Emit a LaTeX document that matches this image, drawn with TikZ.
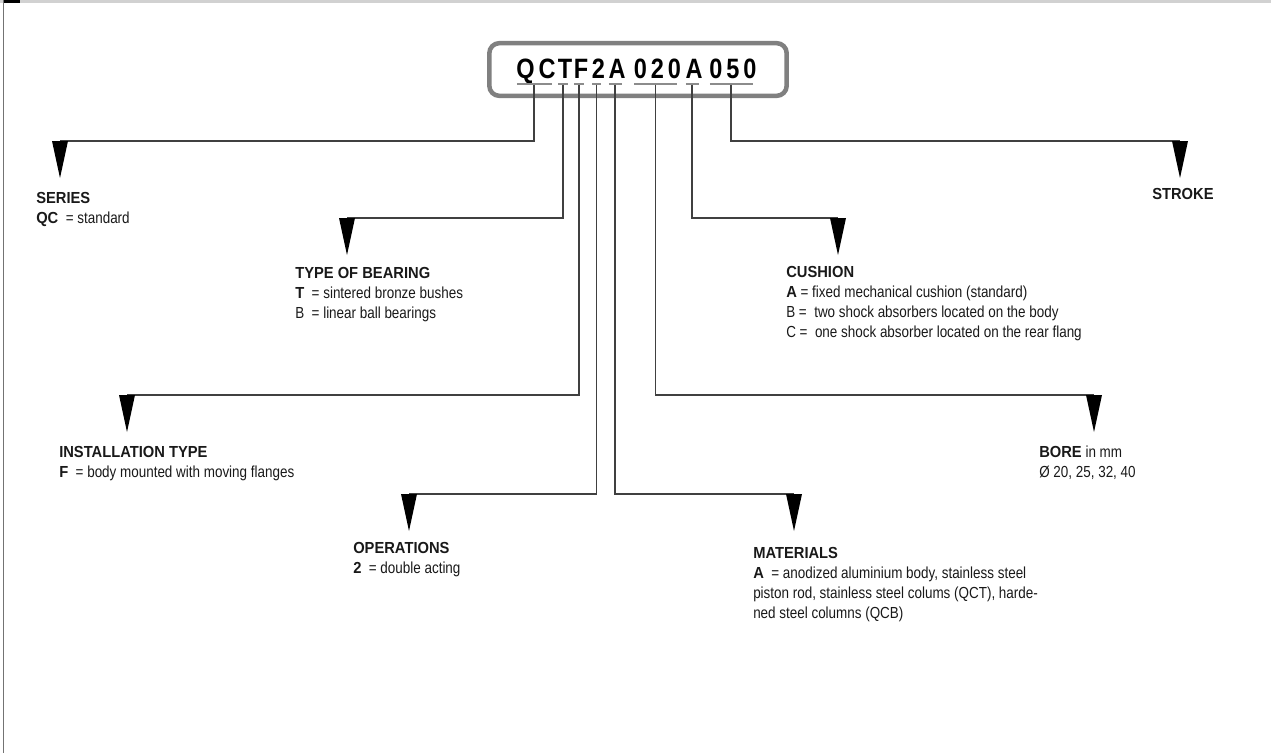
\documentclass[tikz,border=0pt]{standalone}
\usepackage{fontspec}
\setmainfont{Liberation Sans}[FakeStretch=0.84]
\newfontfamily\bfam{Liberation Sans}[FakeStretch=0.92]
\newcommand\hb[1]{{\bfam\bfseries #1}}
\newfontfamily\codefont{Liberation Sans}[FakeStretch=0.84,LetterSpace=14]
\usetikzlibrary{calc}
\begin{document}
\begin{tikzpicture}[x=0.75pt,y=-0.75pt,
  conn/.style={draw=black!75,line width=0.8pt},
  uline/.style={draw=black!45,line width=1.5pt,shorten <=0.5pt,shorten >=3pt},
  code/.style={font=\codefont\bfseries\fontsize{21}{21}\selectfont,inner sep=0pt,anchor=base,text=black},
  lbl/.style={font=\fontsize{12}{15}\selectfont,align=left,anchor=north west,inner sep=0pt,text=black!90},
  arrowhd/.pic={\fill[black] (-8,0) -- (8,0) -- (0,37) -- cycle;}]
\useasboundingbox (0,0) rectangle (1271,753);
% frame
\fill[black!18] (0,0) rectangle (1271,3);
\fill[black] (3,0) rectangle (20,3);
\draw[black!55,line width=0.9pt] (3.5,0) -- (3.5,753);
% code box
\node[draw=black!50,line width=3.4pt,rounded corners=7.5pt,minimum width=223pt,minimum height=39.5pt] (box) at (638,69.5) {};
\node[code] (gQC) at (536,78) {QC};
\node[code] (gT) at (565,78) {T};
\node[code] (gF) at (581,78) {F};
\node[code] (gOp) at (598.5,78) {2};
\node[code] (gMat) at (617,78) {A};
\node[code] (gBore) at (657.5,78) {020};
\node[code] (gCu) at (694,78) {A};
\node[code] (gSt) at (733,78) {050};
\foreach \g in {gQC,gT,gF,gOp,gMat,gBore,gCu,gSt}
  \draw[uline] ($(\g.base west)+(0,5.5)$) -- ($(\g.base east)+(0,5.5)$);
% arrow anchors
\coordinate (aQC) at (60,141);
\coordinate (aSt) at (1180,141);
\coordinate (aT) at (347,218);
\coordinate (aCu) at (838,218);
\coordinate (aF) at (127,395);
\coordinate (aBore) at (1094,395);
\coordinate (aOp) at (409,494);
\coordinate (aMat) at (794,494);
% connectors
\foreach \g/\a in {gQC/aQC,gSt/aSt,gT/aT,gCu/aCu,gF/aF,gBore/aBore,gOp/aOp,gMat/aMat}{
  \draw[conn] ($(\g.base)+(-2,6.5)$) |- (\a);
  \pic at (\a) {arrowhd};
}
% labels
\node[lbl] (tQC) at (36,192) {\hb{SERIES}\\\hb{QC}\ \ = standard};
\node[lbl] (tT) at (295,267) {\hb{TYPE OF BEARING}\\\hb{T}\ \ = sintered bronze bushes\\B\ \ = linear ball bearings};
\node[lbl] (tCu) at (786,266) {\hb{CUSHION}\\\hb{A}\ = fixed mechanical cushion (standard)\\B\ =\ \ two shock absorbers located on the body\\C\ =\ \ one shock absorber located on the rear flang};
\node[lbl] (tF) at (59,446) {\hb{INSTALLATION TYPE}\\\hb{F}\ \ = body mounted with moving flanges};
\node[lbl] (tSt) at (1152,188) {\hb{STROKE}};
\node[lbl] (tBore) at (1039,446) {\hb{BORE} in mm\\Ø 20, 25, 32, 40};
\node[lbl] (tOp) at (353,542) {\hb{OPERATIONS}\\\hb{2}\ \ = double acting};
\node[lbl] (tMat) at (753,547) {\hb{MATERIALS}\\\hb{A}\ \ = anodized aluminium body, stainless steel\\piston rod, stainless steel colums (QCT), harde-\\ned steel columns (QCB)};
\end{tikzpicture}
\end{document}
